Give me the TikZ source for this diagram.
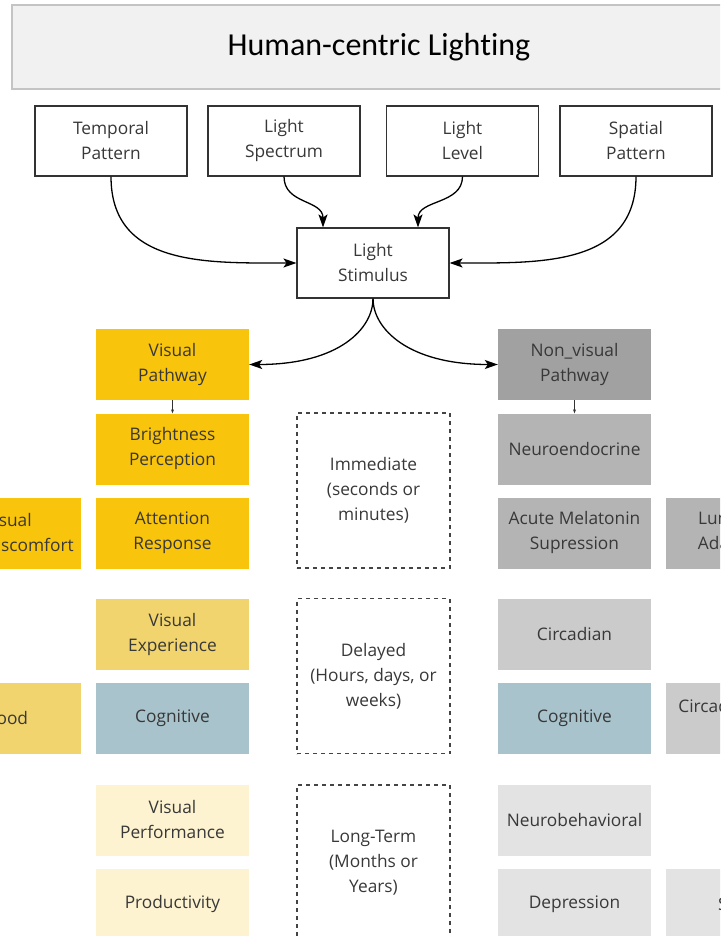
\documentclass[tikz,border=0pt]{standalone}
\usepackage{fontspec}
\setmainfont{Open Sans}
\newfontfamily\headfont[Ligatures={NoCommon}]{Carlito}
\usetikzlibrary{arrows.meta}

\definecolor{txt}{HTML}{383838}
\definecolor{frame}{HTML}{333333}
\definecolor{headfill}{HTML}{F1F1F1}
\definecolor{headline}{HTML}{C4C4C4}
\definecolor{goldA}{HTML}{F9C40C}
\definecolor{goldB}{HTML}{F2D46E}
\definecolor{goldC}{HTML}{FDF3D0}
\definecolor{slate}{HTML}{A8C3CB}
\definecolor{greyA}{HTML}{A1A1A1}
\definecolor{greyB}{HTML}{B4B4B4}
\definecolor{greyC}{HTML}{CBCBCB}
\definecolor{greyD}{HTML}{E3E3E3}
\definecolor{dashc}{HTML}{444444}

\begin{document}
\begin{tikzpicture}[x=1pt,y=-1pt,
  every node/.style={font=\fontsize{17.3}{25}\selectfont, text=txt, align=center, inner sep=0pt},
  plainbox/.style={minimum width=152pt, minimum height=70pt, draw=frame, line width=1.1pt, fill=white},
  tintbox/.style={minimum width=153pt, minimum height=71pt, fill=#1},
  timebox/.style={minimum width=153pt, minimum height=155pt, draw=dashc, line width=1.1pt, dash pattern=on 4pt off 4pt},
  flowarrow/.style={line width=1.3pt, draw=black, -{Stealth[length=13pt,width=9pt,inset=3pt]}},
  tinyarrow/.style={line width=0.5pt, draw=frame, -{Stealth[length=4pt,width=3pt]}}]

\useasboundingbox (0,0) rectangle (720,936);
\clip (0,0) rectangle (720,936);

% heading bar
\node[fill=headfill, draw=headline, line width=1.5pt, minimum width=734pt, minimum height=84pt,
      font=\headfont\fontsize{32}{34}\selectfont, text=black] (title) at (379,47) {\raisebox{-2pt}{Human-centric Lighting}};

% light properties
\node[plainbox] (tp) at (111,141)   {Temporal\\Pattern};
\node[plainbox] (ls) at (284,141)   {Light\\Spectrum};
\node[plainbox] (ll) at (462.5,141) {Light\\Level};
\node[plainbox] (sp) at (636,141)   {Spatial\\Pattern};
\node[plainbox] (st) at (373,263)   {Light\\Stimulus};

\draw[flowarrow] (tp.south) .. controls +(0,90) and +(-90,0) .. (st.west);
\draw[flowarrow] (sp.south) .. controls +(0,90) and +(90,0) .. (st.east);
\draw[flowarrow] (ls.south) .. controls +(0,28) and +(0,-28) .. ([xshift=-50pt]st.north);
\draw[flowarrow] (ll.south) .. controls +(0,28) and +(0,-28) .. ([xshift=45pt]st.north);

% visual pathway column
\node[tintbox=goldA] (vp)  at (172.5,364.5) {Visual\\Pathway};
\node[tintbox=goldA] (bp)  at (172.5,449)   {Brightness\\Perception};
\node[tintbox=goldA] (ar)  at (172.5,533)   {Attention\\Response};
\node[tintbox=goldB] (ve)  at (172.5,634.5) {Visual\\Experience};
\node[tintbox=slate] (cgv) at (172.5,718.5) {Cognitive};
\node[tintbox=goldC] (vpf) at (172.5,820)   {Visual\\Performance};
\node[tintbox=goldC] (pr)  at (172.5,904)   {Productivity};

% outer left column
\node[tintbox=goldA] (vd) at (4.5,533) {};
\node[anchor=west, align=left] (vdt) at (-16,533) {Visual\\Discomfort};
\node[tintbox=goldB] (md) at (4.5,718.5) {Mood};

% time scales
\node[timebox] (im) at (373.5,490.5) {Immediate\\(seconds or\\minutes)};
\node[timebox] (dl) at (373.5,676)   {Delayed\\(Hours, days, or\\weeks)};
\node[timebox] (lt) at (373.5,862.5) {Long-Term\\(Months or\\Years)};

% non-visual pathway column
\node[tintbox=greyA] (nv)  at (574.5,364.5) {Non\_visual\\Pathway};
\node[tintbox=greyB] (ne)  at (574.5,449)   {Neuroendocrine};
\node[tintbox=greyB] (am)  at (574.5,533)   {Acute Melatonin\\Supression};
\node[tintbox=greyC] (ci)  at (574.5,634.5) {Circadian};
\node[tintbox=slate] (cgn) at (574.5,718.5) {Cognitive};
\node[tintbox=greyD] (nb)  at (574.5,820)   {Neurobehavioral};
\node[tintbox=greyD] (de)  at (574.5,904)   {Depression};

% outer right column
\node[tintbox=greyB] (la) at (742.5,533)   {Luminance\\Adaptation};
\node[tintbox=greyC] (cp) at (742.5,718.5) {Circadian Phase\\Shift};
\node[tintbox=greyD] (sl) at (742.5,904)   {Stress};

% stimulus splits into the two pathways
\draw[flowarrow] (st.south) .. controls +(0,30) and +(90,0) .. (vp.east);
\draw[flowarrow] (st.south) .. controls +(0,30) and +(-90,0) .. (nv.west);
\draw[tinyarrow] (vp.south) -- (bp.north);
\draw[tinyarrow] (nv.south) -- (ne.north);
\end{tikzpicture}
\end{document}
